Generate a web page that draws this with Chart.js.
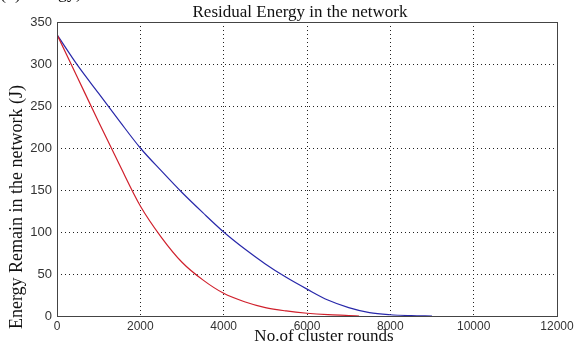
<!DOCTYPE html>
<html>
<head>
<meta charset="utf-8">
<script src="https://cdn.jsdelivr.net/npm/chart.js@4.4.1/dist/chart.umd.min.js"></script>
<style>
  html, body { margin: 0; padding: 0; background: #fff; }
  #wrap { width: 579px; height: 343px; }
</style>
</head>
<body>
<div id="wrap"><canvas id="energyChart" width="579" height="343"></canvas></div>
<script>
// values
var redRounds  = [0, 500, 1000, 1500, 2000, 2500, 3000, 3500, 4000, 4500, 5000, 5500, 6000, 6500, 7000, 7250];
var redEnergy  = [335, 283, 231, 180, 131, 94, 64, 43, 27, 17, 10, 6, 3.3, 1.6, 0.6, 0];
var blueRounds = [0, 500, 1000, 1500, 2000, 2500, 3000, 3500, 4000, 4500, 5000, 5500, 6000, 6500, 7000, 7500, 8000, 8500, 9000];
var blueEnergy = [335, 298, 265, 232, 200, 173, 147, 123, 100, 80, 62, 46, 32, 19, 10, 4, 1.5, 0.5, 0];
var xTicks = [0, 2000, 4000, 6000, 8000, 10000, 12000];
var yTicks = [0, 50, 100, 150, 200, 250, 300, 350];

var titleText = 'Residual Energy in the network';
var xTitle = 'No.of cluster rounds';
var yTitle = 'Energy Remain in the network (J)';

function pts(xs, ys) {
    return xs.map(function (x, i) { return {x: x, y: ys[i]}; });
}

var textPlugin = {
    id: 'matlabText',
    afterDraw: function (chart) {
        var ctx = chart.ctx;
        var a = chart.chartArea;
        ctx.save();
        // box round the axes
        ctx.strokeStyle = '#444';
        ctx.lineWidth = 1;
        ctx.strokeRect(Math.round(a.left) + 0.5, Math.round(a.top) + 0.5,
            Math.round(a.right - a.left), Math.round(a.bottom - a.top));

        ctx.fillStyle = '#111';
        ctx.textAlign = 'center';
        ctx.textBaseline = 'alphabetic';
        ctx.font = '17px "Liberation Serif", "Times New Roman", serif';
        ctx.fillText(titleText, 300, 17);

        ctx.font = '17px "Liberation Serif", "Times New Roman", serif';
        ctx.fillText(xTitle, 324, 341);

        ctx.font = '18px "Liberation Serif", "Times New Roman", serif';
        ctx.translate(22, 207);
        ctx.rotate(-Math.PI / 2);
        ctx.fillText(yTitle, 0, 0);
        ctx.restore();

        // cut-off caption at the very top
        ctx.save();
        ctx.fillStyle = '#111';
        ctx.font = '18px "Liberation Serif", serif';
        ctx.textAlign = 'left';
        ctx.fillText('(b)', 0, -1);
        ctx.textAlign = 'right';
        ctx.fillText('Energy)', 82, -2);
        ctx.restore();
    }
};

var ctx = document.getElementById('energyChart').getContext('2d');
var chart = new Chart(ctx, {
    type: 'line',
    data: {
        datasets: [{
            label: 'red',
            data: pts(redRounds, redEnergy),
            borderColor: '#d0202c',
            borderWidth: 1.2,
            pointRadius: 0,
            cubicInterpolationMode: 'monotone'
        }, {
            label: 'blue',
            data: pts(blueRounds, blueEnergy),
            borderColor: '#2828aa',
            borderWidth: 1.2,
            pointRadius: 0,
            cubicInterpolationMode: 'monotone'
        }]
    },
    options: {
        responsive: false,
        animation: false,
        layout: { padding: { top: 22, right: 22, left: 0, bottom: 0 } },
        plugins: {
            legend: { display: false },
            title: { display: false },
            tooltip: { enabled: false }
        },
        scales: {
            x: {
                type: 'linear',
                min: 0,
                max: 12000,
                afterBuildTicks: function (axis) {
                    axis.ticks = xTicks.map(function (v) { return {value: v}; });
                },
                afterFit: function (axis) { axis.height = 27; },
                ticks: {
                    color: '#333',
                    padding: 3,
                    maxRotation: 0,
                    callback: function (v) { return String(v); },
                    font: { family: '"Liberation Sans", Arial, sans-serif', size: 12 }
                },
                grid: { color: '#222', drawTicks: false, lineWidth: 1 },
                border: { display: false, dash: [1, 3] }
            },
            y: {
                min: 0,
                max: 350,
                afterBuildTicks: function (axis) {
                    axis.ticks = yTicks.map(function (v) { return {value: v}; });
                },
                afterFit: function (axis) { axis.width = 57; },
                ticks: {
                    color: '#333',
                    padding: 5,
                    callback: function (v) { return String(v); },
                    font: { family: '"Liberation Sans", Arial, sans-serif', size: 13 }
                },
                grid: { color: '#222', drawTicks: false, lineWidth: 1 },
                border: { display: false, dash: [1, 3] }
            }
        }
    },
    plugins: [textPlugin]
});
</script>
</body>
</html>
